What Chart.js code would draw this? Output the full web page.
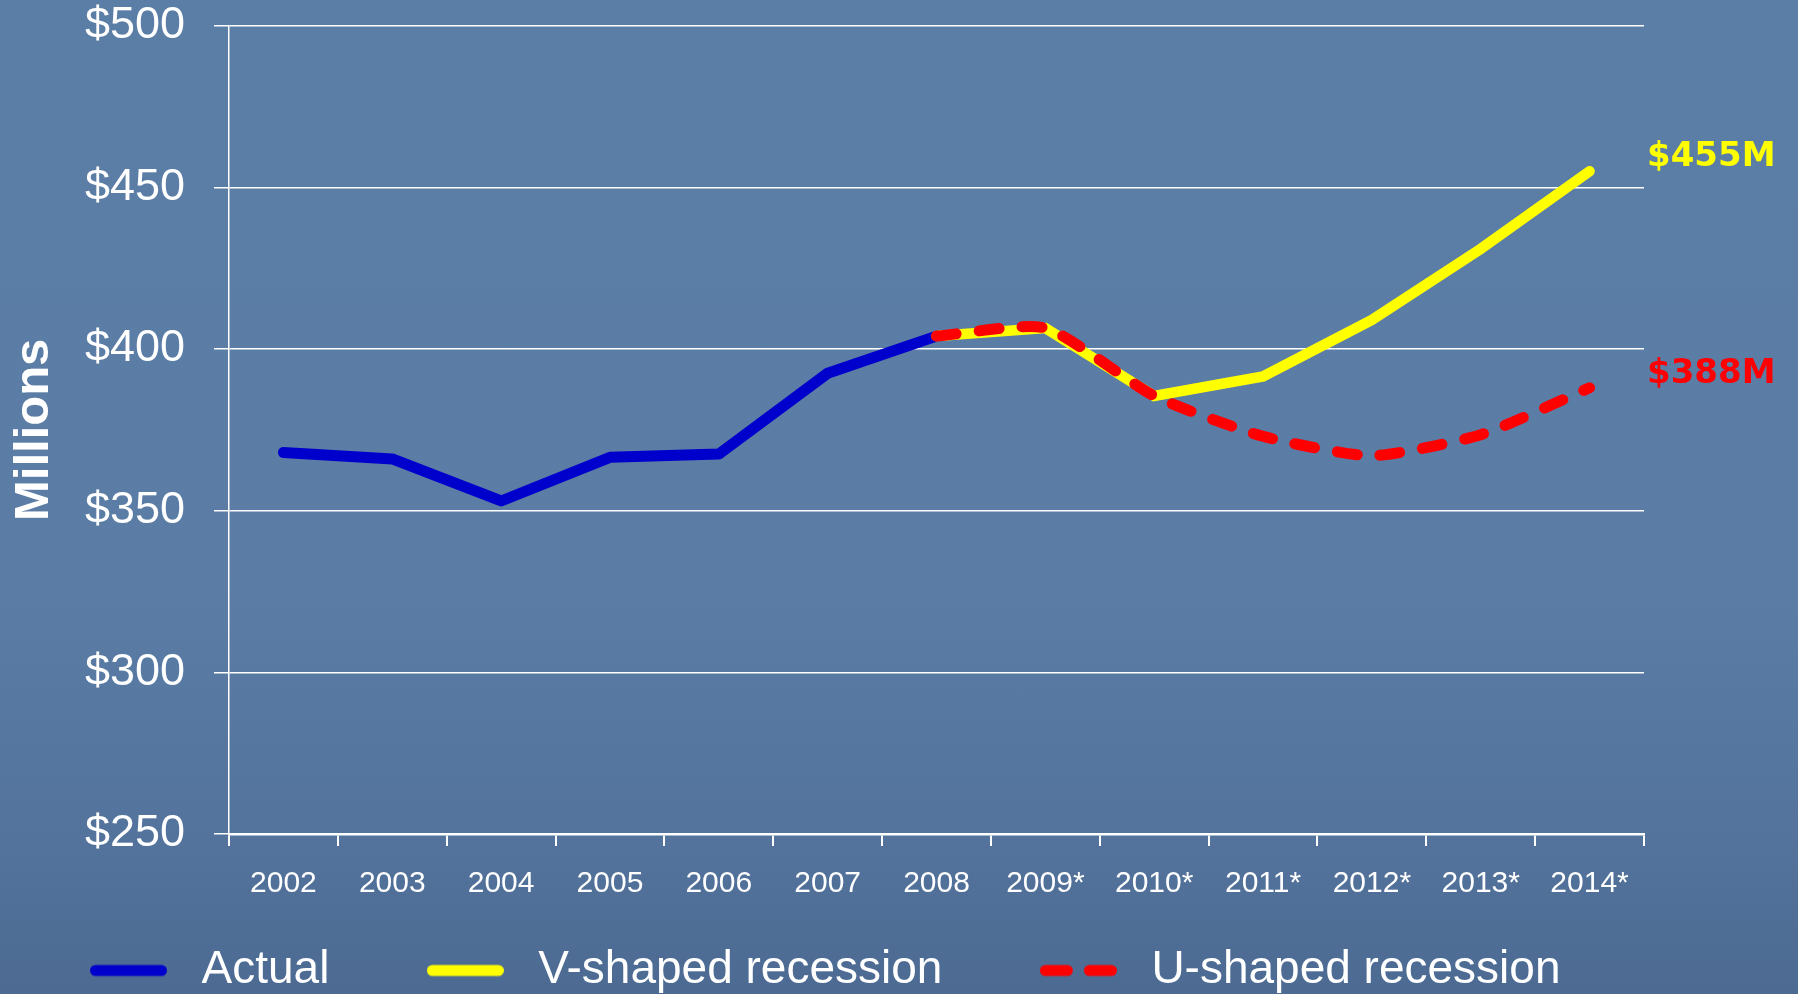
<!DOCTYPE html>
<html>
<head>
<meta charset="utf-8">
<script src="https://cdn.jsdelivr.net/npm/chart.js@4/dist/chart.umd.min.js"></script>
<style>
  html, body { margin: 0; padding: 0; }
  body {
    width: 1798px; height: 994px; overflow: hidden;
    background: linear-gradient(to bottom, #5b7ea7 0%, #5a7ca5 60%, #53739c 85%, #4c6a92 100%);
  }
  #wrap { position: absolute; left: 0; top: 0; width: 1798px; height: 994px; }
</style>
</head>
<body>
<div id="wrap"><canvas id="c"></canvas></div>
<script>
// ---- data ----
const categories = ['2002','2003','2004','2005','2006','2007','2008','2009*','2010*','2011*','2012*','2013*','2014*'];
const actualValues = [368, 366, 353, 366.5, 367.5, 392.5, 404, null, null, null, null, null, null];
const vShapedValues = [null, null, null, null, null, null, 404, 406.5, 385.5, 391.5, 409, 431, 455];
const uShapedValues = [null, null, null, null, null, null, 404, 406.5, 385.5, 373, 367, 373.5, 388];
const seriesNames = ['Actual', 'V-shaped recession', 'U-shaped recession'];
const endLabels = ['$455M', '$388M'];
const yTickValues = [250, 300, 350, 400, 450, 500];

const FONT = '"Liberation Sans", Arial, sans-serif';

// legend sample glyphs (short line swatches)
function swatch(color, segments) {
  const c = document.createElement('canvas');
  c.width = 77; c.height = 14;
  const g = c.getContext('2d');
  g.strokeStyle = color; g.lineWidth = 11; g.lineCap = 'round';
  segments.forEach(([a, b]) => { g.beginPath(); g.moveTo(a, 7); g.lineTo(b, 7); g.stroke(); });
  return c;
}
const swatchActual = swatch('#0000cc', [[5.5, 71.5]]);
const swatchV = swatch('#ffff00', [[5.5, 71.5]]);
const swatchU = swatch('#ff0000', [[5.5, 27.5], [49.5, 71.5]]);

const endLabelPlugin = {
  id: 'endLabels',
  afterDatasetsDraw(chart) {
    const ctx = chart.ctx;
    const y = chart.scales.y;
    const area = chart.chartArea;
    const items = [
      { text: endLabels[0], value: vShapedValues[vShapedValues.length - 1], color: '#ffff00' },
      { text: endLabels[1], value: uShapedValues[uShapedValues.length - 1], color: '#ff0000' }
    ];
    ctx.save();
    ctx.font = 'bold 34px "DejaVu Sans", sans-serif';
    ctx.textAlign = 'left';
    ctx.textBaseline = 'middle';
    items.forEach(it => {
      ctx.fillStyle = it.color;
      ctx.fillText(it.text, area.right + 3, y.getPixelForValue(it.value) - 14);
    });
    ctx.restore();
  }
};

// places the legend row below the axis labels
const legendPlacePlugin = {
  id: 'legendPlace',
  beforeDraw(chart) {
    if (chart.legend) {
      chart.legend.left = -7.5;
      chart.legend.top = 861.5;
    }
  }
};

new Chart(document.getElementById('c'), {
  type: 'line',
  data: {
    labels: categories,
    datasets: [
      {
        label: seriesNames[0], data: actualValues, order: 3,
        borderColor: '#0000cc', backgroundColor: '#0000cc',
        borderWidth: 11, borderCapStyle: 'round', borderJoinStyle: 'round',
        pointRadius: 0, pointStyle: swatchActual, tension: 0
      },
      {
        label: seriesNames[1], data: vShapedValues, order: 2,
        borderColor: '#ffff00', backgroundColor: '#ffff00',
        borderWidth: 10.5, borderCapStyle: 'round', borderJoinStyle: 'miter',
        pointRadius: 0, pointStyle: swatchV, tension: 0
      },
      {
        label: seriesNames[2], data: uShapedValues, order: 1,
        borderColor: '#ff0000', backgroundColor: '#ff0000',
        borderWidth: 11, borderCapStyle: 'round', borderJoinStyle: 'round',
        borderDash: [20, 23],
        pointRadius: 0, pointStyle: swatchU, tension: 0.2
      }
    ]
  },
  options: {
    responsive: true,
    maintainAspectRatio: false,
    animation: false,
    layout: { padding: { top: 25.7, right: 0, bottom: 0, left: 0 } },
    plugins: {
      tooltip: { enabled: false },
      legend: {
        position: 'bottom',
        align: 'start',
        maxHeight: 70,
        labels: {
          usePointStyle: true,
          pointStyleWidth: 100,
          padding: 86,
          color: '#ffffff',
          font: { family: FONT, size: 46 },
          sort: (a, b) => a.datasetIndex - b.datasetIndex
        }
      }
    },
    scales: {
      x: {
        offset: true,
        afterFit(scale) { scale.height = 90; },
        grid: {
          display: true, offset: true, drawOnChartArea: false, drawTicks: true,
          tickLength: 12, color: '#ffffff', lineWidth: 2
        },
        border: { display: true, color: '#ffffff', width: 2.5 },
        ticks: {
          color: '#ffffff', padding: 20, maxRotation: 0, autoSkip: false,
          font: { family: FONT, size: 30 }
        }
      },
      y: {
        min: 250, max: 500,
        afterFit(scale) { scale.width = 229; scale.paddingTop = 0; scale.paddingBottom = 0; },
        afterBuildTicks(scale) { scale.ticks = yTickValues.map(v => ({ value: v })); },
        grid: { color: '#ffffff', lineWidth: 1.5, drawTicks: true, tickLength: 15 },
        border: { display: true, color: '#ffffff', width: 1.5 },
        ticks: {
          color: '#ffffff', padding: 29,
          font: { family: FONT, size: 45, lineHeight: 1.0 },
          callback: v => '$' + v
        },
        title: {
          display: true, text: 'Millions', color: '#ffffff',
          font: { family: FONT, size: 49, weight: 'bold' },
          padding: { top: 5, bottom: 0 }
        }
      },
      // empty right-hand band that holds the end labels
      yRight: {
        type: 'linear', position: 'right', display: true,
        afterFit(scale) { scale.width = 154; scale.paddingTop = 0; scale.paddingBottom = 0; },
        grid: { display: false }, border: { display: false }, ticks: { display: false }
      }
    }
  },
  plugins: [endLabelPlugin, legendPlacePlugin]
});
</script>
</body>
</html>
